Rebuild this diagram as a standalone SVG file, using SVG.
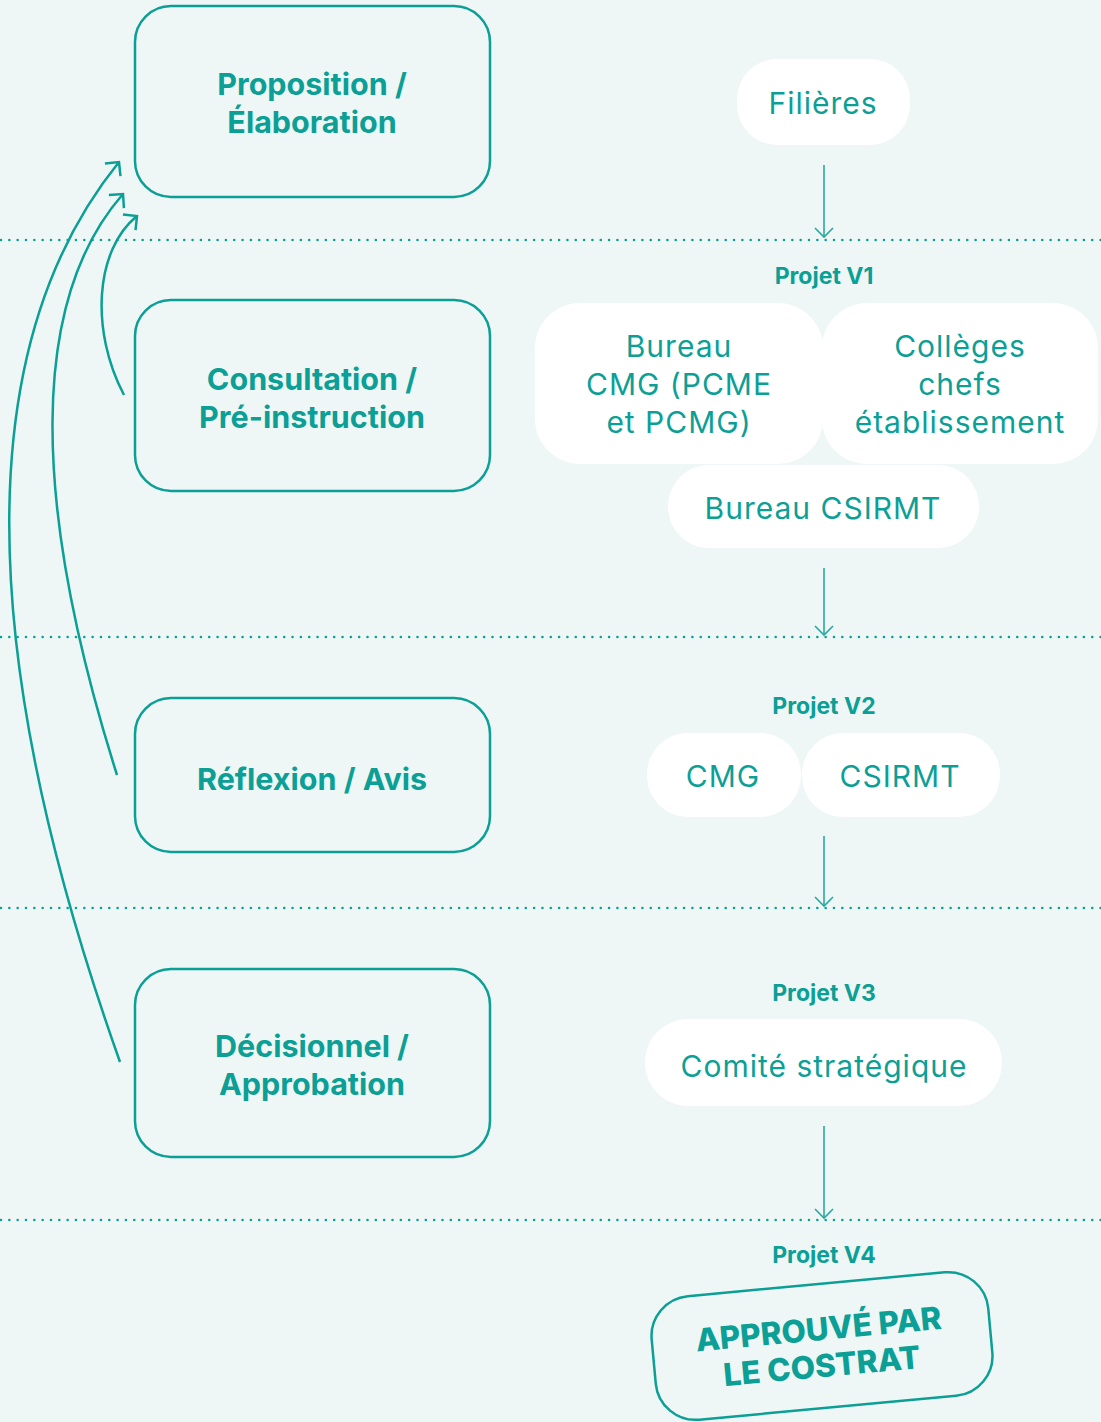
<svg xmlns="http://www.w3.org/2000/svg" width="1101" height="1422" viewBox="0 0 1101 1422">
<defs>
<style>
.bg{fill:#EEF7F5}
.box{fill:none;stroke:#0B9F96;stroke-width:2.5}
.pill{fill:#FFFFFF}
.lbl{font-family:Inter,"Liberation Sans",sans-serif;font-weight:700;font-size:30.5px;fill:#0B9F96;text-anchor:middle}
.txt{font-family:Inter,"Liberation Sans",sans-serif;font-weight:400;font-size:30px;letter-spacing:1px;fill:#0B9F96;text-anchor:middle}
.prj{font-family:Inter,"Liberation Sans",sans-serif;font-weight:700;font-size:23px;fill:#0B9F96;text-anchor:middle}
.stamp{font-family:Inter,"Liberation Sans",sans-serif;font-weight:800;font-size:31.5px;fill:#0B9F96;text-anchor:middle}
.dot{stroke:#0B9F96;stroke-width:2.6;stroke-linecap:round;stroke-dasharray:0 8.33;fill:none}
.curve{fill:none;stroke:#0B9F96;stroke-width:2.5}
.vline{fill:none;stroke:#2AA9A1;stroke-width:1.6}
</style>
<marker id="big" markerUnits="userSpaceOnUse" viewBox="-12 -12 14 24" refX="0" refY="0" markerWidth="14" markerHeight="24" orient="auto">
<path d="M-10,-10 L0,0 L-10,10" fill="none" stroke="#0B9F96" stroke-width="2.5"/>
</marker>
<marker id="small" markerUnits="userSpaceOnUse" viewBox="-11 -11 13 22" refX="0" refY="0" markerWidth="13" markerHeight="22" orient="auto">
<path d="M-9,-9 L0,0 L-9,9" fill="none" stroke="#2AA9A1" stroke-width="1.6"/>
</marker>
</defs>
<rect class="bg" x="0" y="0" width="1101" height="1422"/>
<g id="separators">
<line class="dot" x1="1" y1="240" x2="1101" y2="240"/>
<line class="dot" x1="1" y1="637" x2="1101" y2="637"/>
<line class="dot" x1="1" y1="908" x2="1101" y2="908"/>
<line class="dot" x1="1" y1="1220" x2="1101" y2="1220"/>
</g>
<g id="connectors">
<path class="curve" d="M120,1062 C-30,640 -25,340 119,162" marker-end="url(#big)"/>
<path class="curve" d="M117,775 C30,500 30,300 123,194" marker-end="url(#big)"/>
<path class="curve" d="M124,395 C90,330 95,250 137,216" marker-end="url(#big)"/>
<path class="vline" d="M824,165 V237" marker-end="url(#small)"/>
<path class="vline" d="M824,568 V635" marker-end="url(#small)"/>
<path class="vline" d="M824,836 V906" marker-end="url(#small)"/>
<path class="vline" d="M824,1126 V1218" marker-end="url(#small)"/>
</g>
<g id="proposition">
<rect class="box" x="135" y="6" width="355" height="191" rx="36"/>
<text class="lbl" x="312" y="95">Proposition / </text>
<text class="lbl" x="312" y="133">Élaboration</text>
</g>
<g id="consultation">
<rect class="box" x="135" y="300" width="355" height="191" rx="36"/>
<text class="lbl" x="312" y="390">Consultation / </text>
<text class="lbl" x="312" y="428">Pré-instruction</text>
</g>
<g id="reflexion">
<rect class="box" x="135" y="698" width="355" height="154" rx="36"/>
<text class="lbl" x="312" y="790">Réflexion / Avis</text>
</g>
<g id="decisionnel">
<rect class="box" x="135" y="969" width="355" height="188" rx="36"/>
<text class="lbl" x="312" y="1057">Décisionnel / </text>
<text class="lbl" x="312" y="1095">Approbation</text>
</g>
<g id="filieres">
<rect class="pill" x="737" y="59" width="173" height="86" rx="40"/>
<text class="txt" x="823" y="114">Filières</text>
</g>
<g id="projet-v1"><text class="prj" x="824" y="284">Projet V1</text></g>
<g id="bureau-cmg">
<rect class="pill" x="535" y="303" width="288" height="161" rx="45"/>
<text class="txt" x="679" y="357">Bureau</text>
<text class="txt" x="679" y="395">CMG (PCME</text>
<text class="txt" x="679" y="433">et PCMG)</text>
</g>
<g id="colleges">
<rect class="pill" x="822" y="303" width="276" height="161" rx="45"/>
<text class="txt" x="960" y="357">Collèges</text>
<text class="txt" x="960" y="395">chefs</text>
<text class="txt" x="960" y="433">établissement</text>
</g>
<g id="bureau-csirmt">
<rect class="pill" x="668" y="465" width="311" height="83" rx="41"/>
<text class="txt" x="823" y="519">Bureau CSIRMT</text>
</g>
<g id="projet-v2"><text class="prj" x="824" y="714">Projet V2</text></g>
<g id="cmg">
<rect class="pill" x="647" y="733" width="154" height="84" rx="41"/>
<text class="txt" x="723" y="787">CMG</text>
</g>
<g id="csirmt">
<rect class="pill" x="802" y="733" width="198" height="84" rx="41"/>
<text class="txt" x="900" y="787">CSIRMT</text>
</g>
<g id="projet-v3"><text class="prj" x="824" y="1001">Projet V3</text></g>
<g id="comite">
<rect class="pill" x="645" y="1019" width="357" height="87" rx="43"/>
<text class="txt" x="824" y="1077">Comité stratégique</text>
</g>
<g id="projet-v4"><text class="prj" x="824" y="1263">Projet V4</text></g>
<g id="stamp" transform="translate(822,1346) rotate(-5.3)">
<rect class="box" x="-169" y="-62" width="338" height="124" rx="40"/>
<text class="stamp" x="-2" y="-6">APPROUVÉ PAR</text>
<text class="stamp" x="-2" y="31">LE COSTRAT</text>
</g>
</svg>
